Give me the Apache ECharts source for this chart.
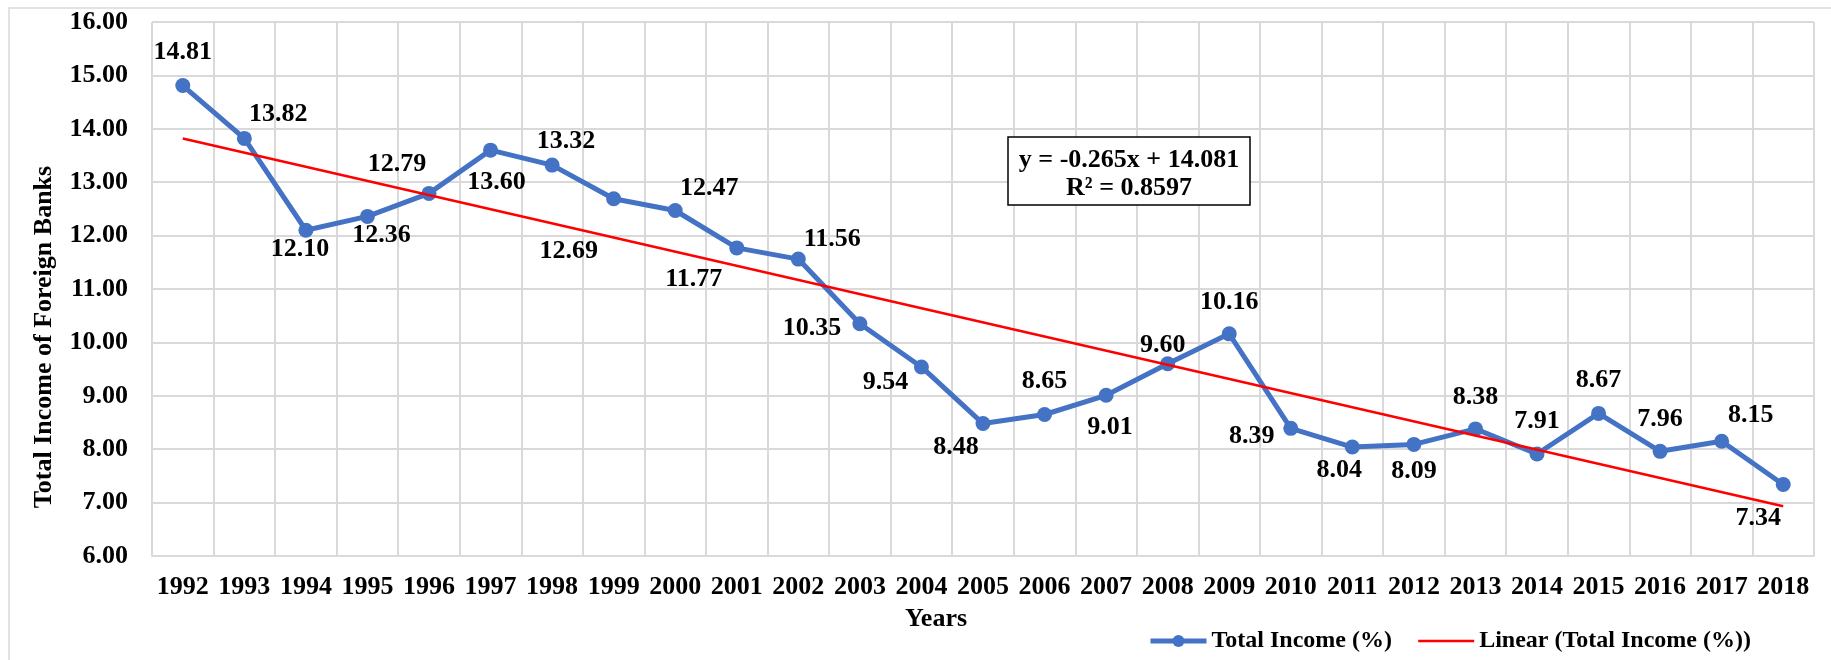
<!DOCTYPE html>
<html>
<head>
<meta charset="utf-8">
<title>Total Income of Foreign Banks</title>
<script src="https://cdn.jsdelivr.net/npm/echarts@6/dist/echarts.min.js"></script>
<style>
  html, body { margin: 0; padding: 0; background: #fff; }
  #chart { width: 1831px; height: 660px; }
</style>
</head>
<body>
<div id="chart"></div>
<script>
// x axis categories
const years = ['1992', '1993', '1994', '1995', '1996', '1997', '1998', '1999', '2000',
  '2001', '2002', '2003', '2004', '2005', '2006', '2007', '2008', '2009',
  '2010', '2011', '2012', '2013', '2014', '2015', '2016', '2017', '2018'];

// Total Income (%)
const totalIncome = [14.81, 13.82, 12.10, 12.36, 12.79, 13.60, 13.32, 12.69, 12.47,
  11.77, 11.56, 10.35, 9.54, 8.48, 8.65, 9.01, 9.60, 10.16,
  8.39, 8.04, 8.09, 8.38, 7.91, 8.67, 7.96, 8.15, 7.34];

// linear trend, value at first and last year
const trendEnds = [13.82, 6.93];

// y axis
const yMin = 6;
const yMax = 16;
const yStep = 1;

// trend line text
const equationText = 'y = -0.265x + 14.081';
const r2Text = 'R\u00b2 = 0.8597';

// where each value label sits around its point, [dx, dy] in px
const labelOffsets = [
  [0, -33], [34, -24], [-6, 19], [14, 19], [-32, -29], [6, 32], [14, -24], [-45, 53], [34, -22],
  [-43, 31], [34, -20], [-48, 5], [-36, 15], [-27, 24], [0, -33], [4, 32], [-5, -18], [0, -32],
  [-39, 8], [-13, 23], [0, 27], [0, -32], [0, -33], [0, -33], [0, -32], [29, -26], [-25, 34]
];

const FONT = '"Liberation Serif", "Times New Roman", serif';
const GRID_COLOR = '#d9d9d9';
const BLUE = '#4472C4';
const RED = '#ff0000';

const trendData = years.map((y, i) => {
  if (i === 0) return trendEnds[0];
  if (i === years.length - 1) return trendEnds[1];
  return null;
});

const chart = echarts.init(document.getElementById('chart'));

chart.setOption({
  animation: false,
  backgroundColor: '#fff',
  textStyle: { fontFamily: FONT },
  grid: { left: 152, right: 17, top: 22, bottom: 104, containLabel: false },
  xAxis: {
    type: 'category',
    data: years,
    boundaryGap: true,
    axisLine: { show: true, lineStyle: { color: GRID_COLOR, width: 2 } },
    axisTick: { show: false },
    axisLabel: {
      interval: 0,
      margin: 18,
      color: '#000',
      fontSize: 26,
      fontWeight: 'bold',
      fontFamily: FONT
    },
    splitLine: { show: true, interval: 0, lineStyle: { color: GRID_COLOR, width: 2 } }
  },
  yAxis: {
    type: 'value',
    min: yMin,
    max: yMax,
    interval: yStep,
    axisLine: { show: false },
    axisTick: { show: false },
    axisLabel: {
      margin: 24,
      color: '#000',
      fontSize: 26,
      fontWeight: 'bold',
      fontFamily: FONT,
      formatter: v => v.toFixed(2)
    },
    splitLine: { show: true, lineStyle: { color: GRID_COLOR, width: 2 } }
  },
  legend: {
    left: 1143,
    top: 624,
    itemWidth: 56,
    itemHeight: 15,
    itemGap: 25,
    textStyle: { fontSize: 24, fontWeight: 'bold', color: '#000', fontFamily: FONT },
    data: [
      { name: 'Total Income (%)', lineStyle: { width: 5, color: BLUE }, itemStyle: { color: BLUE } },
      { name: 'Linear (Total Income (%))', lineStyle: { width: 2.5, color: RED }, itemStyle: { opacity: 0 } }
    ]
  },
  series: [
    {
      name: 'Total Income (%)',
      type: 'line',
      data: totalIncome.map((v, i) => ({
        value: v,
        label: { offset: labelOffsets[i] }
      })),
      symbol: 'circle',
      symbolSize: 15,
      itemStyle: { color: BLUE },
      lineStyle: { color: BLUE, width: 5 },
      label: {
        show: true,
        position: 'inside',
        color: '#000',
        fontSize: 26,
        fontWeight: 'bold',
        fontFamily: FONT,
        formatter: p => Number(p.value).toFixed(2)
      },
      z: 3
    },
    {
      name: 'Linear (Total Income (%))',
      type: 'line',
      data: trendData,
      connectNulls: true,
      symbol: 'none',
      itemStyle: { color: RED },
      lineStyle: { color: RED, width: 2.5 },
      z: 4
    }
  ],
  graphic: [
    {
      type: 'rect',
      shape: { x: 9, y: 8, width: 1900, height: 700 },
      style: { fill: null, stroke: GRID_COLOR, lineWidth: 1.5 },
      silent: true,
      z: -1
    },
    {
      type: 'text',
      x: 44,
      y: 337,
      rotation: Math.PI / 2,
      style: {
        text: 'Total Income of Foreign Banks',
        font: 'bold 26px ' + FONT,
        fill: '#000',
        textAlign: 'center',
        textVerticalAlign: 'middle'
      }
    },
    {
      type: 'text',
      x: 936,
      y: 619,
      style: {
        text: 'Years',
        font: 'bold 26px ' + FONT,
        fill: '#000',
        textAlign: 'center',
        textVerticalAlign: 'middle'
      }
    },
    {
      type: 'rect',
      shape: { x: 1008, y: 137, width: 242, height: 68 },
      style: { fill: '#fff', stroke: '#000', lineWidth: 1.5 },
      z: 10
    },
    {
      type: 'text',
      x: 1129,
      y: 160,
      style: {
        text: equationText,
        font: 'bold 26px ' + FONT,
        fill: '#000',
        textAlign: 'center',
        textVerticalAlign: 'middle'
      },
      z: 11
    },
    {
      type: 'text',
      x: 1129,
      y: 188,
      style: {
        text: r2Text,
        font: 'bold 26px ' + FONT,
        fill: '#000',
        textAlign: 'center',
        textVerticalAlign: 'middle'
      },
      z: 11
    }
  ]
});

window.addEventListener('resize', () => chart.resize());
</script>
</body>
</html>
